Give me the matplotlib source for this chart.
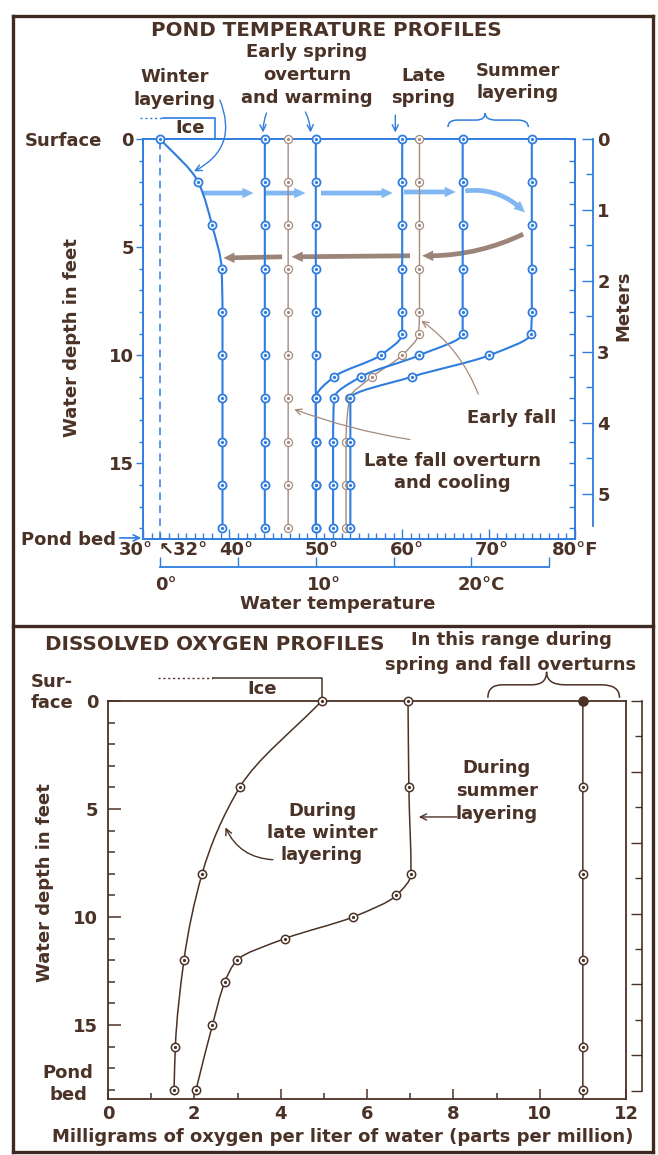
import numpy as np
import matplotlib
matplotlib.use('Agg')
import matplotlib.pyplot as plt
from matplotlib.path import Path
from matplotlib.patches import PathPatch, FancyArrowPatch, ArrowStyle
from matplotlib.lines import Line2D

# ---------------- data: pond temperature profiles (deg F vs depth in feet)
depth_even = [0, 2, 4, 6, 8, 10, 12, 14, 16, 18]
depth_thermo = [0, 2, 4, 6, 8, 9, 10, 11, 12, 14, 16, 18]
winter_layering_F = [32.0, 36.4, 38.0, 39.1, 39.2, 39.2, 39.2, 39.2, 39.2, 39.2]
early_spring_1_F = [44.1, 44.1, 44.1, 44.1, 44.1, 44.1, 44.1, 44.1, 44.1, 44.1]
late_fall_F = [46.8, 46.8, 46.8, 46.8, 46.8, 46.8, 46.8, 46.8, 46.8, 46.8]
early_spring_2_F = [50.0, 50.0, 50.0, 50.0, 50.0, 50.0, 50.0, 50.0, 50.0, 50.0]
late_spring_F = [60.0, 60.0, 60.0, 60.0, 60.0, 60.0, 57.5, 52.1, 50.0, 50.0, 50.0, 50.0]
early_fall_F = [62.0, 62.0, 62.0, 62.0, 62.0, 61.9, 60.0, 56.5, 53.9, 53.5, 53.5, 53.5]
summer_1_F = [67.0, 67.0, 67.0, 67.0, 67.0, 67.0, 62.0, 55.2, 52.1, 52.0, 52.0, 52.0]
summer_2_F = [75.0, 75.0, 75.0, 75.0, 75.0, 74.9, 70.1, 61.1, 54.0, 54.0, 54.0, 54.0]
FREEZING_F = 32

# ---------------- data: dissolved oxygen profiles (mg/l vs depth in feet)
do_depth_winter = [0, 4, 8, 12, 16, 18]
do_winter = [4.95, 3.05, 2.18, 1.76, 1.56, 1.53]
do_depth_summer = [0, 4, 8, 9, 10, 11, 12, 13, 15, 18]
do_summer = [6.95, 6.97, 7.02, 6.68, 5.68, 4.10, 2.99, 2.71, 2.42, 2.04]
do_depth_overturn = [0, 4, 8, 12, 16, 18]
do_overturn = [11.0, 11.0, 11.0, 11.0, 11.0, 11.0]

top_xticks = [30, 40, 50, 60, 70, 80]
top_xlabels = ['30°', '40°', '50°', '60°', '70°', '80°F']
celsius_ticks = [0, 5, 10, 15, 20, 25]
depth_ticks = [0, 5, 10, 15]
meter_ticks = [0, 1, 2, 3, 4, 5]
do_ticks = [0, 2, 4, 6, 8, 10, 12]

# ---------------- style
W, H = 658, 1155
TXT = '#4a3226'
BLUE = '#2f7ddf'
LBLUE = '#6aaaf0'
BROWN = '#a68b7d'
BARROW = '#8a6e60'
DARK = '#4a3226'
FS = 13
TFS = 14.3
plt.rcParams['font.family'] = ['DejaVu Sans']
plt.rcParams['font.weight'] = 'bold'

fig = plt.figure(figsize=(W / 100, H / 100), dpi=100)
fig.patch.set_facecolor('white')


def ftext(x, y, lines, dy=23, **kw):
    if isinstance(lines, str):
        lines = [lines]
    kw.setdefault('ha', 'center')
    kw.setdefault('va', 'center')
    kw.setdefault('color', TXT)
    kw.setdefault('fontsize', FS)
    kw.setdefault('fontweight', 'bold')
    for i, s in enumerate(lines):
        fig.text(x / W, 1 - (y + i * dy) / H, s, **kw)


def pchip_path(x, y):
    """Monotone cubic (x as function of depth y) rendered as Bezier path."""
    x = np.asarray(x, float)
    y = np.asarray(y, float)
    h = np.diff(y)
    d = np.diff(x) / h
    n = len(x)
    m = np.zeros(n)
    m[0], m[-1] = d[0], d[-1]
    for k in range(1, n - 1):
        if d[k - 1] * d[k] <= 0:
            m[k] = 0.0
        else:
            w1 = 2 * h[k] + h[k - 1]
            w2 = h[k] + 2 * h[k - 1]
            m[k] = (w1 + w2) / (w1 / d[k - 1] + w2 / d[k])
    verts = [(x[0], y[0])]
    codes = [Path.MOVETO]
    for k in range(n - 1):
        verts += [(x[k] + m[k] * h[k] / 3, y[k] + h[k] / 3),
                  (x[k + 1] - m[k + 1] * h[k] / 3, y[k + 1] - h[k] / 3),
                  (x[k + 1], y[k + 1])]
        codes += [Path.CURVE4] * 3
    return Path(verts, codes)


def profile(ax, x, y, color, lw, mew, ms=5.8):
    ax.add_patch(PathPatch(pchip_path(x, y), fill=False, ec=color, lw=lw,
                           zorder=3, clip_on=False))
    ax.plot(x, y, 'o', ms=ms, mfc='white', mec=color, mew=mew, zorder=4, clip_on=False)
    ax.plot(x, y, 'o', ms=1.3, color=color, zorder=5, clip_on=False)


def brace(ax, x0, x1, xm, yb, yt, color, lw):
    ym = (yb + yt) / 2
    r0 = (xm - x0) * 0.25
    r1 = (x1 - xm) * 0.25
    verts = [(x0, yb), (x0, ym), (x0 + r0, ym), (xm - r0, ym), (xm, ym), (xm, yt),
             (xm, ym), (xm + r1, ym), (x1 - r1, ym), (x1, ym), (x1, yb)]
    codes = [Path.MOVETO, Path.CURVE3, Path.CURVE3, Path.LINETO, Path.CURVE3, Path.CURVE3,
             Path.CURVE3, Path.CURVE3, Path.LINETO, Path.CURVE3, Path.CURVE3]
    ax.add_patch(PathPatch(Path(verts, codes), fill=False, ec=color, lw=lw, clip_on=False))


def fat_arrow(ax, a, b, color, rad=0.0, alpha=0.85):
    st = ArrowStyle.Simple(head_length=8, head_width=7.5, tail_width=3.4)
    p = FancyArrowPatch(a, b, arrowstyle=st, connectionstyle=f'arc3,rad={rad}',
                        mutation_scale=1, color=color, alpha=alpha, lw=0,
                        shrinkA=0, shrinkB=0, transform=ax.transData, clip_on=False, zorder=2)
    ax.add_patch(p)


def thin_arrow(ax, a, b, color, rad=0.0, lw=1.0):
    ax.annotate('', xy=b, xytext=a, xycoords='data', annotation_clip=False,
                arrowprops=dict(arrowstyle='->,head_length=0.45,head_width=0.22', color=color,
                                lw=lw, shrinkA=0, shrinkB=0,
                                connectionstyle=f'arc3,rad={rad}'))


# =============================== TOP PANEL
Y1MAX = 18.5
ax1 = fig.add_axes([143 / W, 1 - 539 / H, 432 / W, 400 / H])
ax1.set_xlim(30, 80)
ax1.set_ylim(Y1MAX, 0)
ax1.patch.set_alpha(0)
for s in ax1.spines.values():
    s.set_color(BLUE)
    s.set_linewidth(1.4)
ax1.set_xticks(top_xticks)
ax1.set_xticks(np.arange(30, 81, 1), minor=True)
ax1.tick_params(axis='x', which='both', direction='in', color=BLUE, labelbottom=False, width=1.0)
ax1.tick_params(axis='x', which='major', length=7)
ax1.tick_params(axis='x', which='minor', length=4)
ax1.set_yticks(depth_ticks)
ax1.set_yticks(np.arange(0, 19, 1), minor=True)
ax1.tick_params(axis='y', which='both', direction='out', color=BLUE, labelcolor=TXT,
                labelsize=FS, pad=1.5, width=1.0)
ax1.tick_params(axis='y', which='major', length=5)
ax1.tick_params(axis='y', which='minor', length=3)
for t in ax1.get_yticklabels():
    t.set_fontweight('bold')

# inner ticks on the right spine
axr = ax1.twinx()
axr.set_ylim(Y1MAX, 0)
for s in axr.spines.values():
    s.set_visible(False)
axr.set_yticks(np.arange(0, 19, 1))
axr.tick_params(axis='y', direction='in', length=4, color=BLUE, labelright=False, width=1.0)

# meters axis
axm = ax1.twinx()
axm.set_ylim(Y1MAX / 3.2808, 0)
for k, s in axm.spines.items():
    s.set_visible(k == 'right')
axm.spines['right'].set_position(('axes', (593 - 143) / 432))
axm.spines['right'].set_bounds(0, 5.45)
axm.spines['right'].set_color(BLUE)
axm.spines['right'].set_linewidth(1.3)
axm.set_yticks(meter_ticks)
axm.set_yticks(np.arange(0.5, 5.5, 1.0), minor=True)
axm.tick_params(axis='y', which='both', direction='in', color=BLUE, labelcolor=TXT,
                labelsize=FS, pad=3, width=1.0)
axm.tick_params(axis='y', which='major', length=8)
axm.tick_params(axis='y', which='minor', length=5)
for t in axm.get_yticklabels():
    t.set_fontweight('bold')

# celsius axis
axc = ax1.twiny()
axc.set_xlim((30 - 32) / 1.8, (80 - 32) / 1.8)
for k, s in axc.spines.items():
    s.set_visible(k == 'bottom')
axc.xaxis.set_ticks_position('bottom')
axc.spines['bottom'].set_position(('outward', 20))
axc.spines['bottom'].set_bounds(0, 25)
axc.spines['bottom'].set_color(BLUE)
axc.spines['bottom'].set_linewidth(1.3)
axc.set_xticks(celsius_ticks)
axc.tick_params(axis='x', direction='in', length=7, color=BLUE, labelbottom=False,
                labeltop=False, width=1.0)

# freezing dashed line
ax1.axvline(FREEZING_F, color=BLUE, lw=1.1, ls=(0, (5, 3.5)), zorder=2)

# profiles
profile(ax1, early_fall_F, depth_thermo, BROWN, 1.0, 0.9)
profile(ax1, late_fall_F, depth_even, BROWN, 1.0, 0.9)
profile(ax1, winter_layering_F, depth_even, BLUE, 1.5, 1.3)
profile(ax1, early_spring_1_F, depth_even, BLUE, 1.5, 1.3)
profile(ax1, early_spring_2_F, depth_even, BLUE, 1.5, 1.3)
profile(ax1, late_spring_F, depth_thermo, BLUE, 1.5, 1.3)
profile(ax1, summer_1_F, depth_thermo, BLUE, 1.5, 1.3)
profile(ax1, summer_2_F, depth_thermo, BLUE, 1.5, 1.3)

# ice box (top)
ax1.plot([29.6, 32.3], [-0.97, -0.97], color=BLUE, lw=1.0, ls=(0, (1.5, 2)), clip_on=False)
ax1.plot([32.3, 38.3, 38.3], [-0.97, -0.97, 0], color=BLUE, lw=1.2, clip_on=False)
ax1.text(35.4, -0.5, 'Ice', ha='center', va='center', color=TXT, fontsize=FS,
         fontweight='bold', clip_on=False)

# warming / cooling arrows
fat_arrow(ax1, (36.9, 2.5), (42.8, 2.5), LBLUE)
fat_arrow(ax1, (44.0, 2.5), (48.8, 2.5), LBLUE)
fat_arrow(ax1, (50.6, 2.5), (58.9, 2.5), LBLUE)
fat_arrow(ax1, (60.2, 2.45), (66.2, 2.45), LBLUE)
fat_arrow(ax1, (67.3, 2.4), (74.2, 3.4), LBLUE, rad=-0.25)
fat_arrow(ax1, (74.0, 4.4), (62.3, 5.4), BARROW, rad=-0.12)
fat_arrow(ax1, (60.9, 5.4), (47.2, 5.45), BARROW)
fat_arrow(ax1, (46.1, 5.45), (39.3, 5.5), BARROW)

# thin label arrows
thin_arrow(ax1, (38.9, -1.8), (35.9, 1.5), BLUE, rad=-0.45)
thin_arrow(ax1, (44.3, -1.2), (43.9, -0.3), BLUE, rad=0.1)
thin_arrow(ax1, (48.8, -1.25), (49.4, -0.3), BLUE, rad=-0.1)
thin_arrow(ax1, (59.2, -1.1), (59.2, -0.3), BLUE)
thin_arrow(ax1, (68.8, 11.8), (62.2, 8.4), BROWN, rad=0.15, lw=0.9)
thin_arrow(ax1, (60.9, 13.9), (47.5, 12.5), BROWN, rad=-0.05, lw=0.9)
thin_arrow(ax1, (27.3, 18.45), (29.8, 18.45), BLUE, lw=1.2)

brace(ax1, 65.3, 74.6, 69.6, -0.55, -1.2, BLUE, 1.1)

# x labels (F and C)
offs = {30: -0.8, 40: 0.8, 50: 0.7, 60: 0.6, 70: 0.4, 80: 0.0}
for v, lab in zip(top_xticks, top_xlabels):
    ax1.text(v + offs[v], 19.0, lab, ha='center', va='center', color=TXT,
             fontsize=FS, fontweight='bold', clip_on=False)
ax1.text(31.8, 19.0, '↖32°', ha='left', va='center', color=TXT, fontsize=FS,
         fontweight='bold', clip_on=False)
for c, lab, dx in [(0, '0°', 0.6), (10, '10°', 0.9), (20, '20°C', 1.2)]:
    ax1.text(32 + 1.8 * c + dx, 20.65, lab, ha='center', va='center', color=TXT,
             fontsize=FS, fontweight='bold', clip_on=False)
ax1.text(52.5, 21.5, 'Water temperature', ha='center', va='center', color=TXT,
         fontsize=FS, fontweight='bold', clip_on=False)

# top texts
ftext(326, 30, 'POND TEMPERATURE PROFILES', fontsize=TFS)
ftext(307, 52, ['Early spring', 'overturn', 'and warming'])
ftext(175, 77, ['Winter', 'layering'])
ftext(423, 76, ['Late', 'spring'], dy=22)
ftext(518, 71, ['Summer', 'layering'], dy=22)
ftext(63, 141, 'Surface')
ftext(21, 540, 'Pond bed', ha='left')
ftext(72, 338, 'Water depth in feet', rotation=90)
ftext(623, 306, 'Meters', rotation=90)
ftext(512, 418, 'Early fall')
ftext(452, 461, ['Late fall overturn', 'and cooling'], dy=22)

# =============================== BOTTOM PANEL
Y2MAX = 18.43
ax2 = fig.add_axes([108 / W, 1 - 1099 / H, 518 / W, 398 / H])
ax2.set_xlim(0, 12)
ax2.set_ylim(Y2MAX, 0)
ax2.patch.set_alpha(0)
for s in ax2.spines.values():
    s.set_color(DARK)
    s.set_linewidth(1.3)
ax2.set_xticks(do_ticks)
ax2.set_xticks(np.arange(1, 12, 2), minor=True)
ax2.tick_params(axis='x', which='both', direction='in', color=DARK, labelcolor=TXT,
                labelsize=FS, pad=4, width=1.1)
ax2.tick_params(axis='x', which='major', length=7)
ax2.tick_params(axis='x', which='minor', length=4)
ax2.set_yticks(depth_ticks)
ax2.set_yticks(np.arange(0, 19, 1), minor=True)
ax2.tick_params(axis='y', which='both', direction='in', left=True, right=True, color=DARK,
                labelcolor=TXT, labelsize=FS, pad=7, width=1.1)
ax2.tick_params(axis='y', which='major', length=9)
ax2.tick_params(axis='y', which='minor', length=5)
for t in ax2.get_xticklabels() + ax2.get_yticklabels():
    t.set_fontweight('bold')

axm2 = ax2.twinx()
axm2.set_ylim(Y2MAX / 3.2808, 0)
for k, s in axm2.spines.items():
    s.set_visible(k == 'right')
axm2.spines['right'].set_position(('axes', (642 - 108) / 518))
axm2.spines['right'].set_bounds(0, 5.5)
axm2.spines['right'].set_color(DARK)
axm2.spines['right'].set_linewidth(1.2)
axm2.set_yticks([0, 1, 2, 3, 4, 5, 5.5])
axm2.set_yticks(np.arange(0.5, 5.5, 1.0), minor=True)
axm2.tick_params(axis='y', which='both', direction='in', color=DARK, labelright=False, width=1.0)
axm2.tick_params(axis='y', which='major', length=8)
axm2.tick_params(axis='y', which='minor', length=5)

profile(ax2, do_winter, do_depth_winter, DARK, 1.1, 1.1, ms=6.0)
profile(ax2, do_summer, do_depth_summer, DARK, 1.1, 1.1, ms=6.0)
profile(ax2, do_overturn, do_depth_overturn, DARK, 1.1, 1.1, ms=6.0)
ax2.plot(do_overturn[:1], do_depth_overturn[:1], 'o', ms=6.5, color=DARK, zorder=6, clip_on=False)

# ice box (bottom)
ax2.plot([1.16, 2.43], [-1.06, -1.06], color=DARK, lw=1.0, ls=(0, (1.5, 2)), clip_on=False)
ax2.plot([2.43, 4.95, 4.95], [-1.06, -1.06, 0], color=DARK, lw=1.1, clip_on=False)
ax2.text(3.56, -0.55, 'Ice', ha='center', va='center', color=TXT, fontsize=FS,
         fontweight='bold', clip_on=False)

brace(ax2, 8.8, 11.85, 10.16, -0.15, -1.35, DARK, 1.1)
thin_arrow(ax2, (3.82, 7.35), (2.72, 5.85), DARK, rad=-0.3)
thin_arrow(ax2, (8.08, 5.37), (7.2, 5.37), DARK)

ftext(215, 645, 'DISSOLVED OXYGEN PROFILES', fontsize=TFS)
ftext(511, 640, ['In this range during', 'spring and fall overturns'], dy=25)
ftext(52, 682, ['Sur-', 'face'], dy=21)
ftext(45, 883, 'Water depth in feet', rotation=90)
ftext(68, 1073, ['Pond', 'bed'], dy=22)
ftext(322, 811, ['During', 'late winter', 'layering'], dy=22)
ftext(497, 768, ['During', 'summer', 'layering'], dy=23)
ftext(343, 1137, 'Milligrams of oxygen per liter of water (parts per million)')

# =============================== frame
FR = '#3e2a20'
for xs, ys in [([13, 653], [16, 16]), ([13, 13], [16, 1152]), ([653, 653], [16, 1152]),
               ([13, 653], [626, 626]), ([13, 653], [1152, 1152])]:
    fig.add_artist(Line2D([x / W for x in xs], [1 - y / H for y in ys],
                          transform=fig.transFigure, color=FR, lw=2.4))

fig.savefig('out.png', dpi=100, facecolor='white')
